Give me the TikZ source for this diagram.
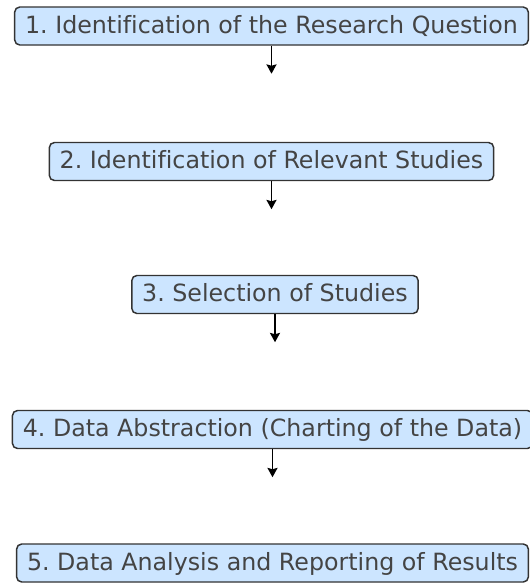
\documentclass[tikz,border=0pt]{standalone}
\usepackage{fontspec}
\setmainfont[Ligatures={NoCommon}]{DejaVu Sans}
\usetikzlibrary{arrows.meta}
\definecolor{boxfill}{HTML}{CCE5FF}
\definecolor{boxedge}{HTML}{333333}
\definecolor{txtcol}{HTML}{444444}
\tikzset{
  stepbox/.style={draw=boxedge, fill=boxfill, line width=1.1pt, rounded corners=3.8pt,
    inner xsep=7.8pt, inner ysep=0pt, text height=14.15pt, text depth=3.65pt,
    minimum height=28.5pt, text=txtcol, font=\fontsize{17.8}{21}\selectfont},
  flow/.style={line width=1.35pt, black, -{Stealth[length=7pt,width=7.5pt,inset=1pt]}}
}
\begin{document}
\frenchspacing
\begin{tikzpicture}[x=0.75pt,y=-0.75pt]
\useasboundingbox (0,0) rectangle (530,583);
\clip (0,0) rectangle (530,583);
\fill[white] (0,0) rectangle (530,583);
\node[stepbox] (s1) at (271.5,26) {1. Identification of the Research Question};
\node[stepbox] (s2) at (271.5,161.5) {2. Identification of Relevant Studies};
\node[stepbox] (s3) at (275,294.5) {3. Selection of Studies};
\node[stepbox] (s4) at (272.5,429.5) {4. Data Abstraction (Charting of the Data)};
\node[stepbox] (s5) at (272.5,563) {5. Data Analysis and Reporting of Results};
\coordinate (e1) at ([yshift=-21pt]s1.south);
\coordinate (e2) at ([yshift=-21pt]s2.south);
\coordinate (e3) at ([yshift=-21pt]s3.south);
\coordinate (e4) at ([yshift=-21pt]s4.south);
\draw[flow] (s1.south) -- (e1);
\draw[flow] (s2.south) -- (e2);
\draw[flow] (s3.south) -- (e3);
\draw[flow] (s4.south) -- (e4);
\end{tikzpicture}
\end{document}
